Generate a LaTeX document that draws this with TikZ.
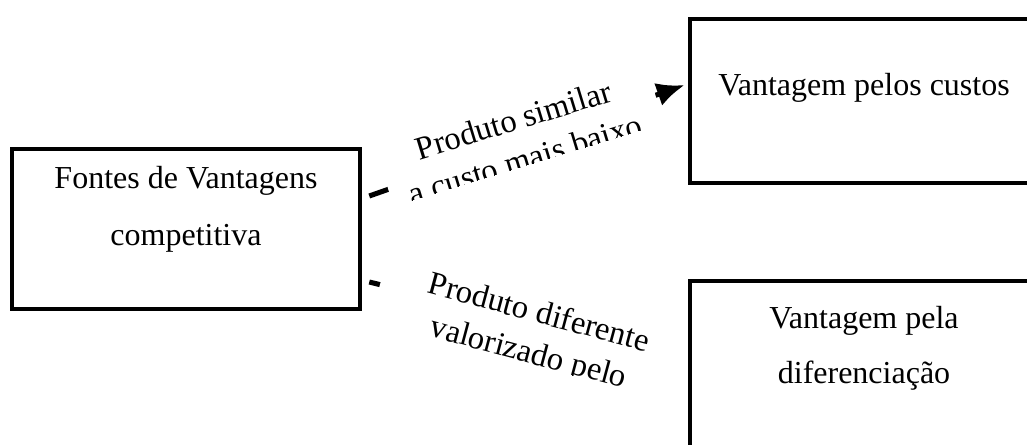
\documentclass[tikz,border=0pt]{standalone}
\usepackage{fontspec}
\setmainfont{Liberation Serif}
\usepackage{tikz}
\usetikzlibrary{arrows.meta,positioning}

\begin{document}
\begin{tikzpicture}[x=0.75pt, y=0.75pt,
    caixa/.style={draw, line width=3pt, inner sep=0pt},
    texto/.style={align=center, anchor=base, inner sep=0pt, font=\fontsize{24}{42.75}\selectfont},
    rotulo/.style={align=center, anchor=base, inner sep=0pt, font=\fontsize{24.5}{30.75}\selectfont},
    seta/.style={line width=3.8pt, -{Latex[length=21pt, width=18pt]}}]
  \useasboundingbox (0,0) rectangle (1027,444);
  \clip (0,0) rectangle (1027,444);

  % boxes (drawn on top later)
  \coordinate (cfontes) at (186,215);
  \coordinate (ccustos) at (865,343);
  \coordinate (cdifer) at (865,73);
  \path (cfontes) node[minimum width=261pt, minimum height=120pt] (fontes) {};
  \path (ccustos) node[minimum width=262.5pt, minimum height=123pt] (custos) {};
  \path (cdifer) node[minimum width=262.5pt, minimum height=135pt] (difer) {};

  % connectors
  \draw[seta] ([shift={(9,33)}]fontes.east) -- ([shift={(-5,16)}]custos.west);
  \draw[seta] ([shift={(9,-53)}]fontes.east) -- ([shift={(-5,11)}]difer.west);

  % first label
  \begin{scope}[shift={(393.3,238.2)}, rotate=17, transform shape]
    \fill[white] (0,0) rectangle (283,75);
    \clip (0,0) rectangle (283,75);
    \node[rotulo] (similar) at (140,-5) {Produto similar\\a custo mais baixo};
  \end{scope}

  % second label
  \begin{scope}[shift={(370.2,122.9)}, rotate=-15, transform shape]
    \fill[white] (0,0) rectangle (318,75);
    \clip (0,0) rectangle (318,75);
    \node[rotulo] (diferente) at (161,0.8) {Produto diferente\\valorizado pelo};
  \end{scope}

  \draw[caixa] (fontes.south west) rectangle (fontes.north east);
  \draw[caixa] (custos.south west) rectangle (custos.north east);
  \draw[caixa] (difer.south west) rectangle (difer.north east);

  \node[texto] (tfontes) at (186,199) {Fontes de Vantagens\\competitiva};
  \node[texto] (tcustos) at (864,349) {Vantagem pelos custos};
  \node[texto, font=\fontsize{24}{41.25}\selectfont] (tdifer) at (864,61) {Vantagem pela\\diferenciação};
\end{tikzpicture}
\end{document}
